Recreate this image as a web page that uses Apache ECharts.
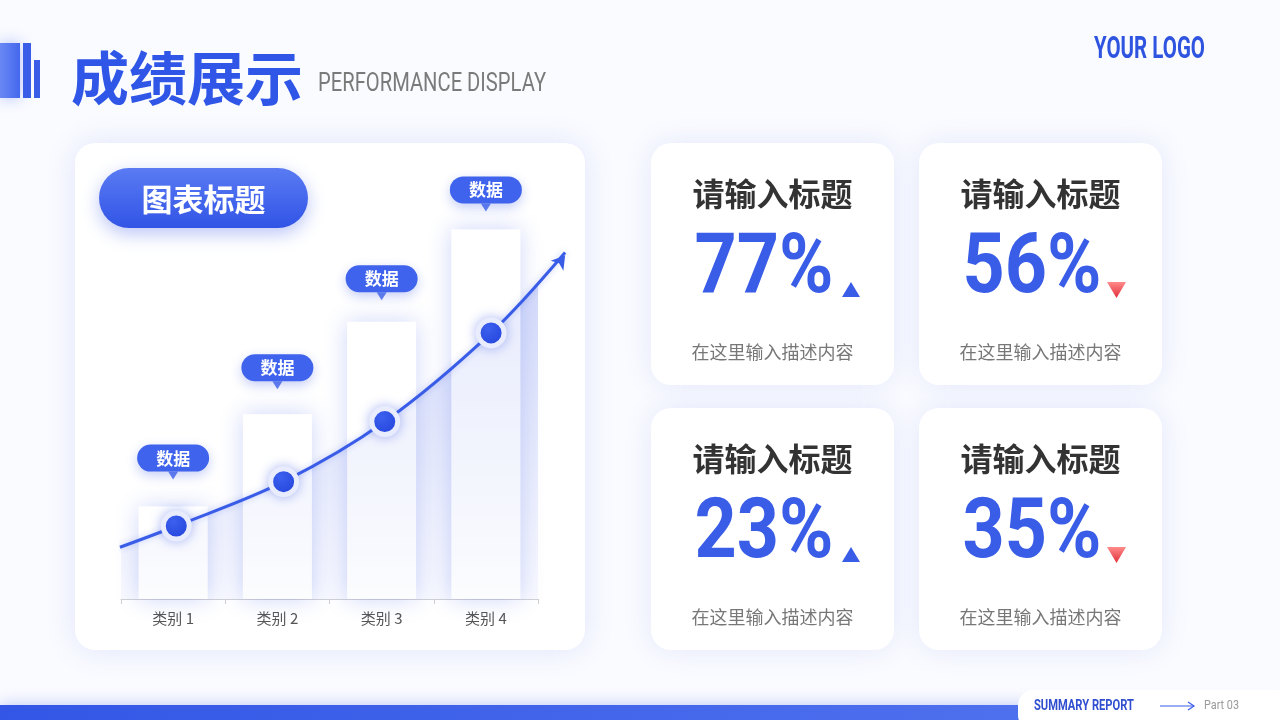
<!DOCTYPE html>
<html><head><meta charset="utf-8">
<script src="https://cdn.jsdelivr.net/npm/echarts@6/dist/echarts.min.js"></script>
<style>html,body{margin:0;padding:0;background:#fafbff}#c{width:1280px;height:720px}</style>
</head><body><div id="c"></div>
<script>
// ---- data ----
const categories = ['类别 1', '类别 2', '类别 3', '类别 4'];
const barValues = [1, 2, 3, 4];
const barLabels = ['数据', '数据', '数据', '数据'];
const curveX = [-0.51, 0.03, 1.06, 2.03, 3.05, 3.76];
const curveY = [0.56, 0.79, 1.27, 1.92, 2.88, 3.75];
const cardTitles = ['请输入标题', '请输入标题', '请输入标题', '请输入标题'];
const cardValues = [77, 56, 23, 35];
const cardTrends = ['up', 'down', 'up', 'down'];
const cardDescs = ['在这里输入描述内容', '在这里输入描述内容', '在这里输入描述内容', '在这里输入描述内容'];

// ---- style ----
const labelGap = [35, 33, 29.5, 26];
const CJK = '"Noto Sans CJK SC", "Noto Sans", sans-serif';
const BLUE = '#3a5de8';
const ctx = document.createElement('canvas').getContext('2d');
function fit(text, font, target) { ctx.font = font; return target / ctx.measureText(text).width; }
const T = (x, y, text, font, fill, align, extra) => Object.assign({ type: 'text', x, y,
  style: { text, font, fill, textAlign: align, textVerticalAlign: 'middle', align, verticalAlign: 'middle' } }, extra || {});

const graphics = [];
// header icon
graphics.push({ type: 'rect', shape: { x: 0, y: 43, width: 20, height: 55 },
  style: { fill: new echarts.graphic.LinearGradient(0, 0, 1, 0, [{ offset: 0, color: '#6a88f4' }, { offset: 1, color: '#4468ee' }]), shadowBlur: 16, shadowColor: 'rgba(70,100,235,0.4)' } });
graphics.push({ type: 'rect', shape: { x: 23, y: 43, width: 8, height: 55 }, style: { fill: '#3a5de8' } });
graphics.push({ type: 'rect', shape: { x: 34, y: 60, width: 6, height: 38 }, style: { fill: '#3a5de8' } });
// header title
graphics.push(T(71, 78, '成绩展示', 'bold 58px ' + CJK, '#2f56e6', 'left'));
const pfFont = '26px Roboto';
graphics.push(T(318, 84, 'PERFORMANCE DISPLAY', pfFont, '#7a7a7a', 'left', { scaleX: fit('PERFORMANCE DISPLAY', pfFont, 228) }));
const logoFont = 'bold 31px Roboto';
graphics.push(T(1094, 50, 'YOUR LOGO', logoFont, '#2f55e0', 'left', { scaleX: fit('YOUR LOGO', logoFont, 111) }));

// left card
graphics.push({ type: 'rect', shape: { x: 75, y: 143, width: 510, height: 507, r: 20 },
  style: { fill: '#ffffff', shadowBlur: 30, shadowColor: 'rgba(90,110,230,0.16)' } });
// chart title badge
graphics.push({ type: 'rect', shape: { x: 99, y: 168, width: 209, height: 60, r: 30 }, z: 5,
  style: { fill: new echarts.graphic.LinearGradient(0, 0, 0, 1, [{ offset: 0, color: '#5a7bf3' }, { offset: 1, color: '#3154e6' }]), shadowBlur: 18, shadowOffsetY: 6, shadowColor: 'rgba(60,90,230,0.35)' } });
graphics.push(T(203.5, 199, '图表标题', 'bold 31px ' + CJK, '#ffffff', 'center', { z: 6 }));

// stat cards
const cardPos = [[651, 143], [919, 143], [651, 408], [919, 408]];
const numFont = 'bold 84px Roboto';
const numScale = fit('56%', numFont, 139);
cardPos.forEach(([l, t], i) => {
  graphics.push({ type: 'rect', shape: { x: l, y: t, width: 243, height: 242, r: 20 },
    style: { fill: '#ffffff', shadowBlur: 28, shadowColor: 'rgba(90,110,230,0.14)' } });
  graphics.push(T(l + 121.5, t + 51, cardTitles[i], 'bold 32px ' + CJK, '#333333', 'center'));
  graphics.push(T(l + 113, t + 128, cardValues[i] + '%', numFont, '#3a5de8', 'center', { scaleX: numScale }));
  if (cardTrends[i] === 'up') {
    graphics.push({ type: 'polygon', shape: { points: [[l + 191, t + 154], [l + 209, t + 154], [l + 200, t + 139]] }, style: { fill: '#3a5de8' } });
  } else {
    graphics.push({ type: 'polygon', shape: { points: [[l + 188, t + 139], [l + 207, t + 139], [l + 197.5, t + 155]] },
      style: { fill: new echarts.graphic.LinearGradient(0, 0, 0, 1, [{ offset: 0, color: '#ff8a8a' }, { offset: 1, color: '#e0303a' }]) } });
  }
  graphics.push(T(l + 121.5, t + 209, cardDescs[i], '18px ' + CJK, '#777777', 'center'));
});

// footer
graphics.push({ type: 'rect', shape: { x: 0, y: 705, width: 1280, height: 15 },
  style: { fill: new echarts.graphic.LinearGradient(0, 0, 1, 0, [{ offset: 0, color: '#3356e6' }, { offset: 1, color: '#5577f0' }]), shadowBlur: 16, shadowColor: 'rgba(60,90,230,0.35)' } });
graphics.push({ type: 'rect', shape: { x: 1018, y: 690, width: 300, height: 40, r: [15, 0, 0, 15] }, style: { fill: '#ffffff' } });
const srFont = 'bold 14px Roboto';
graphics.push(T(1034, 706, 'SUMMARY REPORT', srFont, '#2f4fd0', 'left', { scaleX: fit('SUMMARY REPORT', srFont, 100) }));
graphics.push({ type: 'polyline', shape: { points: [[1160, 706], [1194, 706]] }, style: { stroke: '#3a5de8', lineWidth: 1.2, fill: null } });
graphics.push({ type: 'polyline', shape: { points: [[1188, 702], [1194, 706], [1188, 710]] }, style: { stroke: '#3a5de8', lineWidth: 1.2, fill: null } });
const ptFont = '13px Roboto';
graphics.push(T(1204, 706, 'Part 03', ptFont, '#9a9a9a', 'left', { scaleX: fit('Part 03', ptFont, 35) }));

// curve data
const curveData = curveX.map((x, i) => [x, curveY[i]]);
const lineData = curveData.map((p, i) => {
  if (i === 0) return { value: p, symbol: 'none' };
  if (i === curveData.length - 1) return { value: p, symbol: 'arrow', symbolSize: [12, 13], symbolRotate: -38, symbolOffset: [0, 3],
    itemStyle: { color: BLUE, borderWidth: 0, shadowBlur: 0 } };
  return { value: p };
});

// grid geometry: 4 category bands of 104.25px starting at x=121; grid 1 extends the same scale to x value 4.0
const GL = 121, GR = 742, GT = 137, GB = 121;
const band = (1280 - GL - GR) / categories.length;
const grid1Right = 1280 - GL - band * 4.5;

const chart = echarts.init(document.getElementById('c'));
chart.setOption({
  backgroundColor: '#fafbff',
  animation: false,
  graphic: graphics,
  grid: [
    { left: GL, right: GR, top: GT, bottom: GB },
    { left: GL, right: grid1Right, top: GT, bottom: GB }
  ],
  xAxis: [
    { type: 'category', gridIndex: 0, data: categories, boundaryGap: true,
      axisLine: { lineStyle: { color: '#d0d0d4' } },
      axisTick: { show: true, length: 5, lineStyle: { color: '#d0d0d4' } },
      axisLabel: { color: '#555555', fontSize: 15, margin: 12, fontFamily: 'Noto Sans CJK SC' } },
    { type: 'value', gridIndex: 0, min: -0.5, max: 3.5, show: false },
    { type: 'value', gridIndex: 1, min: -0.5, max: 4.0, show: false }
  ],
  yAxis: [
    { type: 'value', gridIndex: 0, min: 0, max: 5, show: false },
    { type: 'value', gridIndex: 1, min: 0, max: 5, show: false }
  ],
  series: [
    { type: 'bar', data: barValues, barWidth: 69, barGap: '-100%', z: 1,
      itemStyle: { color: '#ffffff', shadowBlur: 22, shadowColor: 'rgba(80,105,235,0.28)' } },
    { type: 'line', xAxisIndex: 1, yAxisIndex: 0, data: curveData, smooth: 0.35, clip: true, symbol: 'none', z: 2,
      lineStyle: { width: 0 },
      areaStyle: { color: new echarts.graphic.LinearGradient(0, 0, 0, 1, [{ offset: 0, color: 'rgba(70,100,232,0.36)' }, { offset: 1, color: 'rgba(70,100,232,0.05)' }]) } },
    { type: 'bar', barGap: '-100%', barWidth: 69, z: 3,
      data: barValues.map((v, i) => ({ value: v, label: { distance: labelGap[i] } })),
      itemStyle: { color: 'rgba(255,255,255,0.45)' },
      label: { show: true, position: 'top', formatter: (p) => barLabels[p.dataIndex],
        color: '#ffffff', fontSize: 17, fontWeight: 'bold', fontFamily: 'Noto Sans CJK SC', lineHeight: 19,
        backgroundColor: '#3f63ec', borderRadius: 14, padding: [4, 19],
        shadowBlur: 12, shadowOffsetY: 4, shadowColor: 'rgba(60,90,230,0.3)' } },
    { type: 'scatter', symbol: 'triangle', symbolRotate: 180, symbolSize: [10, 8], z: 4, silent: true,
      data: barValues.map((v, i) => ({ value: v, symbolOffset: [0, -(labelGap[i] - 4)] })),
      itemStyle: { color: '#3a5ee9' } },
    { type: 'line', xAxisIndex: 2, yAxisIndex: 1, data: lineData, smooth: 0.35, clip: false, z: 5,
      symbol: 'circle', symbolSize: 26,
      lineStyle: { color: BLUE, width: 3, shadowBlur: 6, shadowColor: 'rgba(59,93,231,0.3)' },
      itemStyle: { color: new echarts.graphic.RadialGradient(0.4, 0.35, 0.7, [{ offset: 0, color: '#3d62f0' }, { offset: 1, color: '#1f3fd8' }]),
        borderColor: '#e8ecfd', borderWidth: 5, shadowBlur: 12, shadowColor: 'rgba(60,90,230,0.35)' } }
  ]
});
</script></body></html>
